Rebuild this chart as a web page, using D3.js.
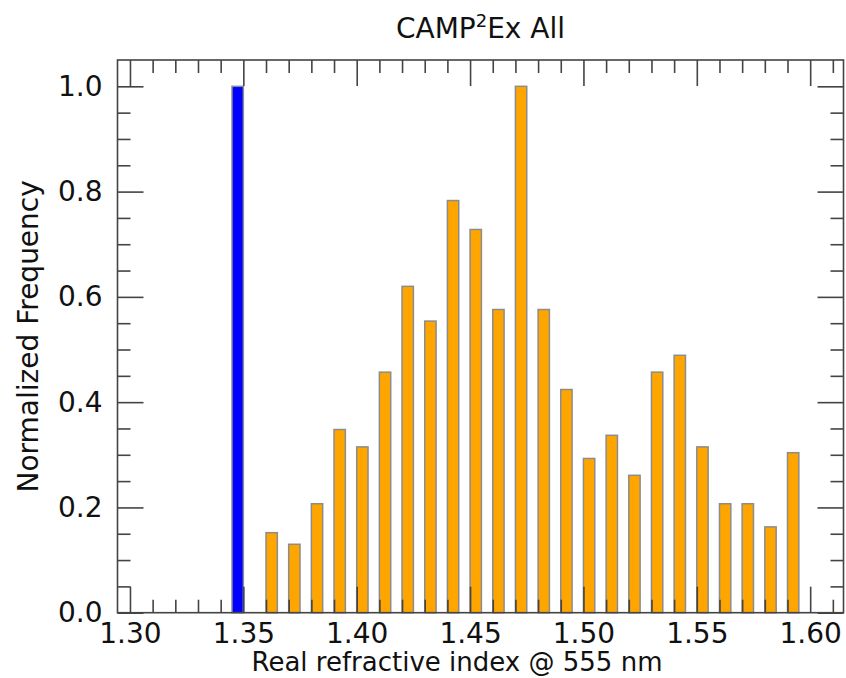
<!DOCTYPE html>
<html>
<head>
<meta charset="utf-8">
<script src="https://cdn.jsdelivr.net/npm/d3@7"></script>
<style>
  body { margin: 0; background: #fff; }
  svg { display: block; }
  text { font-family: "DejaVu Sans", sans-serif; fill: #111; }
</style>
</head>
<body>
<div id="chart"></div>
<script>
// bin left edges (real refractive index) and normalized frequency
var binStart = [1.36, 1.37, 1.38, 1.39, 1.40, 1.41, 1.42, 1.43, 1.44, 1.45, 1.46, 1.47,
                1.48, 1.49, 1.50, 1.51, 1.52, 1.53, 1.54, 1.55, 1.56, 1.57, 1.58, 1.59];
var freq = [0.152, 0.130, 0.207, 0.348, 0.315, 0.457, 0.620, 0.554, 0.783, 0.728, 0.576, 1.000,
            0.576, 0.424, 0.293, 0.337, 0.261, 0.457, 0.489, 0.315, 0.207, 0.207, 0.163, 0.304];
// the single highlighted (water) bin
var waterStart = [1.345];
var waterFreq = [1.0];
var binWidth = 0.005;

var xMajor = [1.30, 1.35, 1.40, 1.45, 1.50, 1.55, 1.60];
var yMajor = [0.0, 0.2, 0.4, 0.6, 0.8, 1.0];

var W = 846, H = 678;
var margin = {top: 60, right: 2.5, bottom: 65.3, left: 117.5},
    width = W - margin.left - margin.right,
    height = H - margin.top - margin.bottom;

var svg = d3.select("#chart")
            .append("svg")
            .attr("width", W)
            .attr("height", H);

var g = svg.append("g")
           .attr("transform", `translate(${margin.left},${margin.top})`);

var x = d3.scaleLinear().domain([1.2945, 1.6147]).range([0, width]);
var y = d3.scaleLinear().domain([0, 1.05]).range([height, 0]);

var xMinor = d3.range(130, 162).map(d => d / 100).filter(d => xMajor.indexOf(d) < 0);
var yMinor = d3.range(0, 21).map(d => d * 0.05).filter(d => Math.abs(d * 5 - Math.round(d * 5)) > 1e-6);

// bars
g.append("g")
  .selectAll("rect")
  .data(binStart.map((d, i) => ({x: d, v: freq[i]})))
  .join("rect")
    .attr("x", d => x(d.x))
    .attr("y", d => y(d.v))
    .attr("width", d => x(d.x + binWidth) - x(d.x))
    .attr("height", d => y(0) - y(d.v))
    .attr("fill", "#FFA500")
    .attr("stroke", "#8c8c8c")
    .attr("stroke-width", 1.5);

g.append("g")
  .selectAll("rect")
  .data(waterStart.map((d, i) => ({x: d, v: waterFreq[i]})))
  .join("rect")
    .attr("x", d => x(d.x))
    .attr("y", d => y(d.v))
    .attr("width", d => x(d.x + binWidth) - x(d.x))
    .attr("height", d => y(0) - y(d.v))
    .attr("fill", "#0000FF")
    .attr("stroke", "#8c8c8c")
    .attr("stroke-width", 1.5);

// axes with inward ticks on all four sides
function styleAxis(sel) {
  sel.select(".domain").remove();
  sel.selectAll(".tick line").attr("stroke", "#444").attr("stroke-width", 1.6);
  sel.selectAll(".tick text").attr("font-size", 28).attr("fill", "#111")
     .attr("font-family", "DejaVu Sans, sans-serif");
}

g.append("g").attr("transform", `translate(0,${height})`)
  .call(d3.axisBottom(x).tickValues(xMajor).tickSize(-26).tickPadding(10).tickFormat(d3.format(".2f")))
  .call(styleAxis);
g.append("g").attr("transform", `translate(0,${height})`)
  .call(d3.axisBottom(x).tickValues(xMinor).tickSize(-13).tickFormat(""))
  .call(styleAxis);
g.append("g")
  .call(d3.axisTop(x).tickValues(xMajor).tickSize(-26).tickFormat(""))
  .call(styleAxis);
g.append("g")
  .call(d3.axisTop(x).tickValues(xMinor).tickSize(-13).tickFormat(""))
  .call(styleAxis);

g.append("g")
  .call(d3.axisLeft(y).tickValues(yMajor).tickSize(-26).tickPadding(15).tickFormat(d3.format(".1f")))
  .call(styleAxis);
g.append("g")
  .call(d3.axisLeft(y).tickValues(yMinor).tickSize(-13).tickFormat(""))
  .call(styleAxis);
g.append("g").attr("transform", `translate(${width},0)`)
  .call(d3.axisRight(y).tickValues(yMajor).tickSize(-26).tickFormat(""))
  .call(styleAxis);
g.append("g").attr("transform", `translate(${width},0)`)
  .call(d3.axisRight(y).tickValues(yMinor).tickSize(-13).tickFormat(""))
  .call(styleAxis);

// frame
g.append("rect")
  .attr("width", width)
  .attr("height", height)
  .attr("fill", "none")
  .attr("stroke", "#444")
  .attr("stroke-width", 1.6);

// title with superscript
var title = svg.append("text")
  .attr("x", margin.left + width / 2)
  .attr("y", 38)
  .attr("text-anchor", "middle")
  .attr("font-size", 28);
title.append("tspan").text("CAMP");
title.append("tspan").attr("dy", -11).attr("font-size", 18).text("2");
title.append("tspan").attr("dy", 11).text("Ex All");

svg.append("text")
  .attr("x", 457)
  .attr("y", 671)
  .attr("text-anchor", "middle")
  .attr("font-size", 26)
  .text("Real refractive index @ 555 nm");

svg.append("text")
  .attr("transform", `translate(38,${margin.top + height / 2}) rotate(-90)`)
  .attr("text-anchor", "middle")
  .attr("font-size", 28)
  .text("Normalized Frequency");
</script>
</body>
</html>
